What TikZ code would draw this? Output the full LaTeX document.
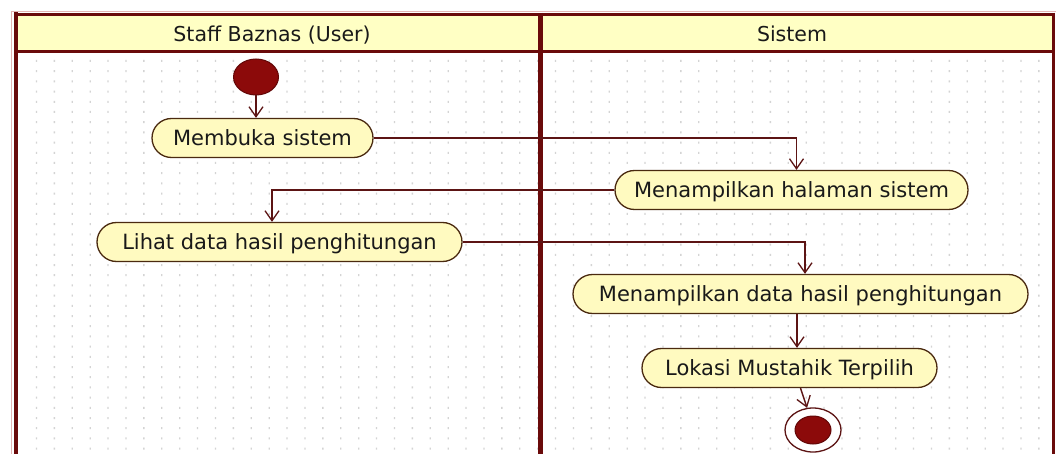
\documentclass[tikz,border=0pt]{standalone}
\usepackage{fontspec}
\setmainfont{DejaVu Sans}
\usetikzlibrary{arrows.meta,shapes.geometric}

\definecolor{laneline}{HTML}{6A0A0A}
\definecolor{headfill}{HTML}{FFFFC4}
\definecolor{actfill}{HTML}{FFFAC0}
\definecolor{actline}{HTML}{4A2A10}
\definecolor{flow}{HTML}{5C1414}
\definecolor{dotgray}{HTML}{D4D4D4}
\definecolor{pale}{HTML}{E4B4B4}
\definecolor{blob}{HTML}{8C0A0A}

\tikzset{
  activity/.style={draw=actline, fill=actfill, line width=1.3pt,
    rounded corners=19.5pt, minimum height=39pt, inner sep=0pt,
    text height=15.3pt, text depth=0pt,
    font=\fontsize{21}{25}\selectfont, text=black!90},
  flowline/.style={draw=flow, line width=1.4pt,
    -{Straight Barb[length=10pt,width=14pt,line width=1.3pt]}},
  lanehead/.style={font=\fontsize{20.5}{25}\selectfont, text=black!90, anchor=base},
  startdot/.style={ellipse, fill=blob, draw=blob!70!black, line width=1pt, inner sep=0pt},
  endring/.style={ellipse, fill=white, draw=flow, line width=1.3pt, inner sep=0pt},
}

\begin{document}
\begin{tikzpicture}[x=1pt,y=-1pt]
\useasboundingbox (0,0) rectangle (1056,454);
\fill[white] (0,0) rectangle (1056,454);

% dotted drawing grid inside the lanes
\fill[dotgray] \foreach \i in {0,...,56} {\foreach \j in {0,...,38} {(35.8+\i*17.9, 60+\j*10.2) rectangle ++(1.3,2)}};

% lane headers
\fill[headfill] (16,14) rectangle (1053,51);
\node[lanehead] (hUser) at (272,42) {Staff Baznas (User)};
\node[lanehead] (hSys) at (792,42) {Sistem};

% swimlane frame
\draw[pale, line width=1pt] (11.5,454) -- (11.5,11.5) -- (1056,11.5);
\draw[laneline, line width=4pt] (16,12.5) -- (16,454);
\draw[laneline, line width=3pt] (14,14.5) -- (1055,14.5);
\draw[laneline, line width=2.5pt] (1053.7,13) -- (1053.7,454);
\draw[laneline, line width=3pt] (16,51.5) -- (1053,51.5);
\draw[laneline, line width=5pt] (540.5,13) -- (540.5,454);

% initial and final states
\node[startdot, minimum width=45pt, minimum height=36pt] (init) at (256,77) {};
\node[endring, minimum width=56pt, minimum height=44pt] (fin) at (813,430) {};
\node[startdot, minimum width=36pt, minimum height=28pt] (finDot) at (fin.center) {};

% activities
\node[activity, minimum width=221pt] (m1) at (262.5,138) {Membuka sistem};
\node[activity, minimum width=353pt] (s1) at (791.5,190) {Menampilkan halaman sistem};
\node[activity, minimum width=365pt] (m2) at (279.5,242) {Lihat data hasil penghitungan};
\node[activity, minimum width=455pt] (s2) at (800.5,294) {Menampilkan data hasil penghitungan};
\node[activity, minimum width=295pt] (s3) at (789.5,368) {Lokasi Mustahik Terpilih};

% control flows
\draw[flowline] (init.south) -- (init.south |- m1.north);
\draw[flowline] (m1.east) -| ([xshift=5pt]s1.north);
\draw[flowline] (s1.west) -| ([xshift=-7.5pt]m2.north);
\draw[flowline] (m2.east) -| ([xshift=4.5pt]s2.north);
\draw[flowline] ([xshift=-3.5pt]s2.south) -- ([xshift=-3.5pt]s2.south |- s3.north);
\draw[flowline] ([xshift=11pt]s3.south) -- (fin.105);
\end{tikzpicture}
\end{document}
